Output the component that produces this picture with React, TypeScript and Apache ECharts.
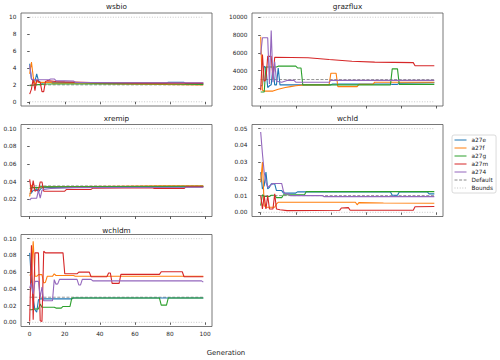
import React, { useEffect, useRef } from "react";
import * as echarts from "echarts";

// ---------- data ----------
const seriesNames = ["a27e", "a27f", "a27g", "a27m", "a274"];
const seriesColors = ["#1f77b4", "#ff7f0e", "#2ca02c", "#d62728", "#9467bd"];
const panelTitles = ["wsbio", "grazflux", "xremip", "wchld", "wchldm"];
const xTicks = [0, 20, 40, 60, 80, 100];
const genFirst = 0;
const genLast = 99;
const defaultValues = [2, 3000, 0.035, 0.01, 0.03];
const boundsLow = [0, 500, 0.005, 0, 0];
const boundsHigh = [10, 10000, 0.1, 0.05, 0.1];
const wsbioTicks = [0, 2, 4, 6, 8, 10];
const grazfluxTicks = [2000, 4000, 6000, 8000, 10000];
const xremipTicks = [0.02, 0.04, 0.06, 0.08, 0.1];
const wchldTicks = [0, 0.01, 0.02, 0.03, 0.04, 0.05];
const wchldmTicks = [0, 0.02, 0.04, 0.06, 0.08, 0.1];
const tickDecimals = [0, 0, 2, 2, 2];

// wsbio
const wsbio_a27e = [[0, 4.5], [1, 2.7], [2, 2.5], [3, 2.4], [4, 3.3], [5, 2.5], [6, 2.3], [7, 2.2], [10, 2.3], [20, 2.3], [40, 2.25], [78, 2.2], [79, 2.3], [88, 2.3], [89, 2.15], [99, 2.15]];
const wsbio_a27f = [[0, 3.3], [1, 4.7], [2, 3.0], [3, 2.0], [4, 2.4], [5, 2.3], [12, 2.3], [13, 2.2], [30, 2.2], [50, 2.1], [75, 2.05], [99, 2.0]];
const wsbio_a27g = [[0, 1.9], [3, 2.0], [10, 2.1], [30, 2.1], [50, 2.15], [80, 2.1], [99, 2.05]];
const wsbio_a27m = [[0, 0.9], [1, 1.5], [2, 2.7], [3, 1.3], [4, 2.6], [5, 2.4], [6, 2.3], [7, 1.2], [8, 1.2], [9, 2.4], [10, 2.5], [15, 2.4], [20, 2.35], [40, 2.25], [60, 2.2], [99, 2.2]];
const wsbio_a274 = [[0, 4.3], [1, 2.7], [2, 2.6], [11, 2.6], [12, 2.7], [14, 2.7], [15, 2.5], [25, 2.45], [26, 2.3], [50, 2.25], [99, 2.25]];

// grazflux
const grazflux_a27e = [[0, 2300], [1, 2300], [2, 4500], [3, 4300], [4, 2100], [5, 2300], [6, 2400], [7, 4400], [8, 2400], [9, 2400], [10, 4300], [11, 2400], [40, 2400], [41, 2500], [74, 2500], [75, 2450], [78, 2450], [79, 2600], [99, 2650]];
const grazflux_a27f = [[0, 7800], [1, 1800], [2, 1700], [7, 1700], [10, 1900], [14, 2100], [17, 2200], [20, 2300], [25, 2400], [39, 2400], [40, 3700], [43, 3700], [44, 2200], [55, 2200], [56, 2450], [64, 2450], [65, 2700], [99, 2700]];
const grazflux_a27g = [[0, 1600], [2, 1600], [3, 4400], [9, 4400], [10, 4500], [20, 4500], [21, 4300], [23, 4300], [24, 2400], [74, 2400], [75, 4200], [78, 4200], [79, 2450], [99, 2450]];
const grazflux_a27m = [[0, 1800], [1, 5800], [2, 2800], [3, 3000], [4, 5600], [6, 5600], [7, 3000], [8, 5500], [27, 5450], [39, 5250], [52, 5060], [65, 4950], [87, 4900], [88, 4550], [99, 4550]];
const grazflux_a274 = [[0, 5800], [1, 7700], [4, 7700], [5, 2500], [6, 8500], [7, 2700], [8, 5000], [9, 2800], [12, 2700], [15, 2900], [19, 2900], [20, 2700], [39, 2700], [40, 2900], [99, 2900]];

// xremip
const xremip_a27e = [[0, 0.026], [1, 0.027], [2, 0.03], [3, 0.03], [4, 0.032], [5, 0.028], [6, 0.031], [7, 0.033], [50, 0.0335], [99, 0.034]];
const xremip_a27f = [[0, 0.023], [1, 0.036], [2, 0.033], [6, 0.033], [7, 0.034], [50, 0.0345], [75, 0.035], [99, 0.035]];
const xremip_a27g = [[0, 0.032], [1, 0.033], [5, 0.033], [6, 0.034], [99, 0.0345]];
const xremip_a27m = [[0, 0.0425], [1, 0.028], [2, 0.041], [3, 0.029], [4, 0.03], [5, 0.03], [6, 0.0395], [7, 0.0395], [8, 0.029], [20, 0.029], [21, 0.031], [35, 0.031], [36, 0.0325], [70, 0.033], [71, 0.032], [88, 0.032], [89, 0.034], [99, 0.034]];
const xremip_a274 = [[0, 0.019], [1, 0.021], [4, 0.021], [5, 0.03], [6, 0.021], [7, 0.03], [8, 0.031], [12, 0.032], [25, 0.033], [99, 0.0335]];

// wchld
const wchld_a27e = [[0, 0.024], [1, 0.014], [2, 0.016], [3, 0.024], [4, 0.014], [5, 0.015], [6, 0.017], [8, 0.017], [9, 0.013], [12, 0.013], [13, 0.0115], [20, 0.0115], [21, 0.0122], [74, 0.0122], [75, 0.0102], [78, 0.0102], [79, 0.0122], [95, 0.0122], [96, 0.011], [99, 0.011]];
const wchld_a27f = [[0, 0.018], [1, 0.03], [2, 0.004], [3, 0.003], [8, 0.003], [9, 0.005], [10, 0.006], [54, 0.006], [55, 0.0045], [56, 0.0058], [70, 0.0056], [99, 0.0054]];
const wchld_a27g = [[0, 0.004], [1, 0.0105], [2, 0.0095], [5, 0.0095], [6, 0.0102], [8, 0.0102], [9, 0.0088], [12, 0.0088], [13, 0.0105], [25, 0.0105], [26, 0.0124], [99, 0.0124]];
const wchld_a27m = [[0, 0.01], [1, 0.002], [2, 0.01], [3, 0.002], [4, 0.01], [5, 0.002], [7, 0.002], [8, 0.011], [9, 0.002], [11, 0.0015], [15, 0.001], [45, 0.0012], [46, 0.0026], [50, 0.0028], [51, 0.0012], [87, 0.0012], [88, 0.0033], [99, 0.0035]];
const wchld_a274 = [[0, 0.048], [1, 0.035], [2, 0.024], [3, 0.018], [4, 0.015], [6, 0.0165], [7, 0.0172], [12, 0.0172], [13, 0.0125], [14, 0.011], [16, 0.011], [17, 0.01], [35, 0.01], [36, 0.0094], [99, 0.0094]];

// wchldm
const wchldm_a27e = [[0, 0.083], [1, 0.05], [2, 0.028], [3, 0.015], [4, 0.012], [5, 0.027], [6, 0.028], [24, 0.028], [25, 0.029], [99, 0.029]];
const wchldm_a27f = [[0, 0.056], [1, 0.058], [2, 0.097], [3, 0.055], [4, 0.055], [5, 0.057], [7, 0.057], [8, 0.047], [9, 0.048], [10, 0.055], [13, 0.055], [14, 0.058], [15, 0.056], [25, 0.056], [26, 0.055], [99, 0.055]];
const wchldm_a27g = [[0, 0.015], [1, 0.015], [3, 0.016], [5, 0.016], [6, 0.022], [7, 0.018], [14, 0.018], [15, 0.017], [18, 0.017], [19, 0.019], [23, 0.019], [24, 0.029], [74, 0.029], [75, 0.0205], [78, 0.0205], [79, 0.029], [99, 0.029]];
const wchldm_a27m = [[0, 0.001], [1, 0.092], [2, 0.003], [3, 0.083], [5, 0.083], [6, 0.002], [7, 0.001], [8, 0.085], [9, 0.083], [19, 0.083], [20, 0.058], [27, 0.058], [28, 0.06], [34, 0.06], [35, 0.0545], [44, 0.0545], [45, 0.059], [46, 0.059], [47, 0.0466], [51, 0.0466], [52, 0.0573], [74, 0.0573], [75, 0.0605], [87, 0.0605], [88, 0.0545], [99, 0.0545]];
const wchldm_a274 = [[0, 0.041], [1, 0.047], [2, 0.034], [3, 0.049], [5, 0.049], [6, 0.03], [7, 0.042], [8, 0.0257], [13, 0.0257], [14, 0.051], [15, 0.0455], [16, 0.046], [17, 0.0514], [27, 0.0514], [28, 0.0447], [29, 0.0447], [30, 0.0514], [35, 0.0514], [36, 0.0495], [98, 0.0495], [99, 0.048]];

const panelData = [
  [wsbio_a27e, wsbio_a27f, wsbio_a27g, wsbio_a27m, wsbio_a274],
  [grazflux_a27e, grazflux_a27f, grazflux_a27g, grazflux_a27m, grazflux_a274],
  [xremip_a27e, xremip_a27f, xremip_a27g, xremip_a27m, xremip_a274],
  [wchld_a27e, wchld_a27f, wchld_a27g, wchld_a27m, wchld_a274],
  [wchldm_a27e, wchldm_a27f, wchldm_a27g, wchldm_a27m, wchldm_a274],
];
const panelTicks = [wsbioTicks, grazfluxTicks, xremipTicks, wchldTicks, wchldmTicks];

// ---------- layout ----------
const gridRects = [
  { left: 21, top: 13, width: 191, height: 93 },
  { left: 252, top: 13, width: 191, height: 93 },
  { left: 21, top: 124.5, width: 191, height: 92 },
  { left: 252, top: 124.5, width: 191, height: 92 },
  { left: 21, top: 234.5, width: 191, height: 92 },
];
const titleY = [6.5, 6.5, 118, 118, 230];
const FONT = "DejaVu Sans";
const TEXT = "#1a1a1a";
const DEFAULT_COLOR = "#8a8a8a";
const BOUNDS_COLOR = "#c2c2c2";

function buildOption() {
  const span = genLast - genFirst;
  const xMin = genFirst - span * 0.05;
  const xMax = genLast + span * 0.05;

  const grid = gridRects.map((g) => ({
    ...g,
    show: true,
    borderColor: "#555",
    borderWidth: 0.8,
    containLabel: false,
  }));

  const xAxis = gridRects.map((_, i) => ({
    type: "value",
    gridIndex: i,
    min: xMin,
    max: xMax,
    splitLine: { show: false },
    axisLine: { show: false },
    axisTick: { show: true, length: 2.5, lineStyle: { color: "#333", width: 0.8 }, customValues: xTicks },
    axisLabel: {
      show: i === 4,
      customValues: xTicks,
      fontSize: 5.8,
      fontFamily: FONT,
      color: TEXT,
      margin: 4,
    },
  }));

  const yAxis = gridRects.map((_, i) => {
    const lo = boundsLow[i];
    const hi = boundsHigh[i];
    const m = (hi - lo) * 0.05;
    return {
      type: "value",
      gridIndex: i,
      min: lo - m,
      max: hi + m,
      splitLine: { show: false },
      axisLine: { show: false },
      axisTick: { show: true, length: 2.5, lineStyle: { color: "#333", width: 0.8 }, customValues: panelTicks[i] },
      axisLabel: {
        show: true,
        customValues: panelTicks[i],
        fontSize: 5.8,
        fontFamily: FONT,
        color: TEXT,
        margin: 4.5,
        formatter: (v: number) => v.toFixed(tickDecimals[i]),
      },
    };
  });

  const series: any[] = [];
  gridRects.forEach((_, i) => {
    [boundsLow[i], boundsHigh[i]].forEach((b) => {
      series.push({
        type: "line",
        name: "Bounds",
        xAxisIndex: i,
        yAxisIndex: i,
        data: [[genFirst, b], [genLast, b]],
        symbol: "none",
        silent: true,
        color: BOUNDS_COLOR,
        lineStyle: { color: BOUNDS_COLOR, width: 0.9, type: [1, 1.6] },
        z: 1,
      });
    });
    series.push({
      type: "line",
      name: "Default",
      xAxisIndex: i,
      yAxisIndex: i,
      data: [[genFirst, defaultValues[i]], [genLast, defaultValues[i]]],
      symbol: "none",
      silent: true,
      color: DEFAULT_COLOR,
      lineStyle: { color: DEFAULT_COLOR, width: 0.9, type: [3, 1.6] },
      z: 1,
    });
    panelData[i].forEach((d, k) => {
      series.push({
        type: "line",
        name: seriesNames[k],
        xAxisIndex: i,
        yAxisIndex: i,
        data: d,
        symbol: "none",
        silent: true,
        color: seriesColors[k],
        lineStyle: { color: seriesColors[k], width: 1.1 },
        z: 2,
      });
    });
  });

  const textStyleBase = {
    fill: TEXT,
    fontFamily: FONT,
    fontWeight: "normal",
    textAlign: "center",
    align: "center",
    textVerticalAlign: "middle",
    verticalAlign: "middle",
  };
  const graphic: any[] = panelTitles.map((t, i) => ({
    type: "text",
    x: gridRects[i].left + gridRects[i].width / 2,
    y: titleY[i],
    style: { ...textStyleBase, text: t, fontSize: 7.3 },
  }));
  graphic.push({
    type: "text",
    x: 226,
    y: 353,
    style: { ...textStyleBase, text: "Generation", fontSize: 6.9 },
  });

  return {
    animation: false,
    backgroundColor: "#ffffff",
    grid,
    xAxis,
    yAxis,
    series,
    graphic,
    legend: {
      data: [...seriesNames, "Default", "Bounds"],
      orient: "vertical",
      left: 452,
      top: 135,
      padding: [2, 3, 2, 2],
      itemWidth: 12,
      itemHeight: 7,
      itemGap: 2,
      itemTextGap: 3,
      backgroundColor: "#fff",
      borderColor: "#d0d0d0",
      borderWidth: 0.8,
      borderRadius: 2,
      selectedMode: false,
      itemStyle: { color: "transparent", borderWidth: 0, opacity: 0 },
      lineStyle: { width: 1 },
      textStyle: { fontSize: 5.8, fontFamily: FONT, color: TEXT },
    },
  };
}

export default function App() {
  const ref = useRef<HTMLDivElement>(null);
  useEffect(() => {
    if (!ref.current) return;
    const chart = echarts.init(ref.current, undefined, { renderer: "svg", width: 500, height: 360 });
    chart.setOption(buildOption() as any);
    return () => chart.dispose();
  }, []);
  return (
    <div
      ref={ref}
      style={{ position: "absolute", left: 0, top: 0, width: 500, height: 360, background: "#fff" }}
    />
  );
}
